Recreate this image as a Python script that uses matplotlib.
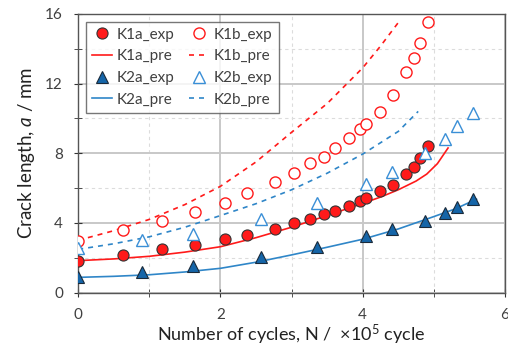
import numpy as np
import matplotlib
matplotlib.use("Agg")
import matplotlib.pyplot as plt
from matplotlib.ticker import MultipleLocator

plt.rcParams['font.family'] = ['Lato', 'DejaVu Sans']
plt.rcParams['mathtext.fontset'] = 'custom'
plt.rcParams['mathtext.rm'] = 'Lato'
plt.rcParams['mathtext.it'] = 'Lato:italic'

# experimental data (N in 1e5 cycles, a in mm)
n_k1 = [0, 0.63, 1.18, 1.64, 2.06, 2.38, 2.76, 3.03, 3.26, 3.45, 3.61, 3.81,
        3.96, 4.05, 4.25, 4.42, 4.61, 4.72, 4.81, 4.92]
k1a_exp = [1.83, 2.16, 2.50, 2.73, 3.06, 3.32, 3.65, 4.00, 4.24, 4.49, 4.68, 4.99,
           5.26, 5.41, 5.81, 6.20, 6.81, 7.23, 7.73, 8.42]
k1b_exp = [2.98, 3.57, 4.11, 4.64, 5.16, 5.74, 6.33, 6.87, 7.46, 7.79, 8.29, 8.90,
           9.40, 9.67, 10.39, 11.33, 12.67, 13.48, 14.34, 15.53]

n_k2 = [0, 0.89, 1.61, 2.57, 3.36, 4.04, 4.41, 4.88, 5.15, 5.33, 5.55]
k2a_exp = [0.87, 1.18, 1.54, 2.06, 2.63, 3.23, 3.63, 4.11, 4.59, 4.93, 5.36]
k2b_exp = [2.54, 3.02, 3.34, 4.22, 5.13, 6.25, 6.94, 8.03, 8.82, 9.57, 10.33]

# predicted curves
n_k1a_pre = [0, 0.5, 1, 1.5, 2, 2.5, 3, 3.5, 4, 4.25, 4.5, 4.75, 4.9, 5.05, 5.2]
k1a_pre = [1.83, 1.93, 2.08, 2.32, 2.63, 3.15, 3.75, 4.42, 5.12, 5.48, 5.9, 6.4, 6.8, 7.4, 8.3]
n_k1b_pre = [0, 0.5, 1, 1.5, 2, 2.5, 3, 3.5, 4, 4.25, 4.5]
k1b_pre = [3.0, 3.55, 4.2, 5.05, 6.1, 7.5, 9.2, 10.85, 12.9, 14.15, 15.5]
n_k2a_pre = [0, 0.5, 1, 1.5, 2, 2.5, 3, 3.5, 4, 4.5, 5, 5.3, 5.6]
k2a_pre = [0.87, 0.93, 1.02, 1.18, 1.39, 1.74, 2.16, 2.6, 3.06, 3.65, 4.36, 4.8, 5.36]
n_k2b_pre = [0, 0.5, 1, 1.5, 2, 2.5, 3, 3.5, 4, 4.5, 4.78]
k2b_pre = [2.48, 2.8, 3.2, 3.75, 4.42, 5.1, 5.9, 6.85, 7.95, 9.25, 10.4]

red = '#ff1a1a'
blue = '#1565a8'
lblue = '#3a8fd6'
lineblue = '#2f86c8'

fig, ax = plt.subplots(figsize=(5.08, 3.47), dpi=100)
fig.subplots_adjust(left=0.154, right=0.994, bottom=0.157, top=0.96)

ms = 8
h1, = ax.plot(n_k1, k1a_exp, 'o', color=red, mec='#333333', mew=0.8, ms=ms, label='K1a_exp', zorder=5)
h2, = ax.plot(n_k1a_pre, k1a_pre, '-', color=red, lw=1.2, label='K1a_pre', zorder=4)
h3, = ax.plot(n_k2, k2a_exp, '^', color=blue, mec='#1a2a3a', mew=0.8, ms=ms, label='K2a_exp', zorder=5)
h4, = ax.plot(n_k2a_pre, k2a_pre, '-', color=lineblue, lw=1.2, label='K2a_pre', zorder=4)
h5, = ax.plot(n_k1, k1b_exp, 'o', mfc='white', mec=red, mew=1.0, ms=ms, label='K1b_exp', zorder=5)
h6, = ax.plot(n_k1b_pre, k1b_pre, '--', color=red, lw=1.2, dashes=(3, 3), label='K1b_pre', zorder=4)
h7, = ax.plot(n_k2, k2b_exp, '^', mfc='white', mec=lblue, mew=1.0, ms=ms, label='K2b_exp', zorder=5)
h8, = ax.plot(n_k2b_pre, k2b_pre, '--', color=lineblue, lw=1.2, dashes=(3, 3), label='K2b_pre', zorder=4)

ax.set_xlim(0, 6)
ax.set_ylim(0, 16)
ax.xaxis.set_major_locator(MultipleLocator(2))
ax.xaxis.set_minor_locator(MultipleLocator(1))
ax.yaxis.set_major_locator(MultipleLocator(4))
ax.yaxis.set_minor_locator(MultipleLocator(2))
ax.grid(which='major', color='#c8c8c8', lw=1.4)
ax.grid(which='minor', color='#dcdcdc', lw=0.8, ls=(0, (3, 3)))
ax.set_axisbelow(True)
ax.tick_params(which='both', direction='inout', length=6, color='#333333',
               labelsize=11, labelcolor='#404040')
ax.tick_params(axis='x', pad=8)
ax.tick_params(axis='y', pad=8)
for s in ax.spines.values():
    s.set_color('#555555')
    s.set_linewidth(1.0)

ax.set_xlabel(r'Number of cycles, N /  $\times$10$^5$ cycle', fontsize=13, color='#222222', labelpad=1)
ax.set_ylabel(r'Crack length, $\mathit{a}$ / mm', fontsize=13.5, color='#222222', labelpad=6)

leg = ax.legend(handles=[h1, h2, h3, h4, h5, h6, h7, h8], ncol=2, loc='upper left',
                fontsize=11, frameon=True, fancybox=False, edgecolor='#555555',
                handlelength=1.3, handletextpad=0.3, columnspacing=1.0,
                labelspacing=0.5, borderaxespad=0.5)
leg.get_frame().set_linewidth(1.0)
for t in leg.get_texts():
    t.set_color('#404040')

fig.savefig('out.png', dpi=100)
